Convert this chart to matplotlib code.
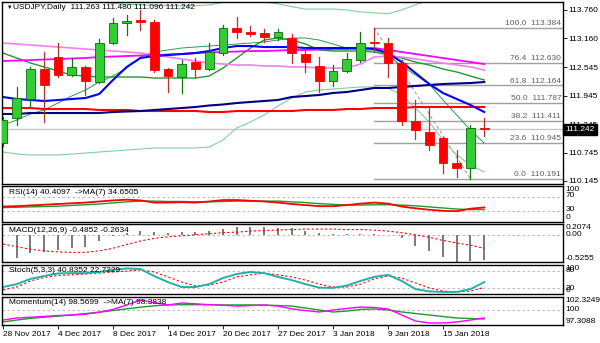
import matplotlib.pyplot as plt
from matplotlib.patches import Rectangle

plt.rcParams['font.family'] = ['Liberation Sans', 'DejaVu Sans']
FS = 6

# daily bars 28 Nov 2017 .. 18 Jan 2018
tick_pos = [0, 4, 8, 12, 16, 20, 24, 28, 32]
tick_labels = ["28 Nov 2017", "4 Dec 2017", "8 Dec 2017", "14 Dec 2017", "20 Dec 2017",
               "27 Dec 2017", "3 Jan 2018", "9 Jan 2018", "15 Jan 2018"]

opens = [110.948, 111.477, 111.878, 112.513, 112.766, 112.386, 112.555, 112.238, 113.062, 113.485,
         113.549, 113.506, 112.513, 112.344, 112.661, 112.513, 112.851, 113.379, 113.295, 113.274,
         113.189, 113.168, 112.830, 112.576, 112.259, 112.471, 112.703, 113.083, 113.062, 112.640,
         111.413, 111.181, 111.054, 110.525, 110.420, 111.263]
highs = [111.498, 112.132, 112.555, 112.872, 113.062, 112.745, 112.576, 113.147, 113.591, 113.654,
         113.760, 113.549, 112.534, 112.703, 112.745, 113.062, 113.443, 113.612, 113.422, 113.358,
         113.358, 113.253, 112.957, 112.766, 112.597, 112.851, 113.295, 113.384, 113.168, 112.703,
         111.857, 111.709, 111.075, 110.800, 111.329, 111.480]
lows = [110.885, 111.329, 111.730, 111.392, 112.344, 112.365, 111.963, 112.217, 113.041, 113.231,
        113.337, 112.449, 112.026, 112.005, 112.344, 112.492, 112.809, 113.168, 113.210, 113.083,
        113.126, 112.640, 112.449, 112.026, 112.153, 112.449, 112.661, 112.872, 112.344, 111.329,
        111.033, 110.800, 110.314, 110.229, 110.191, 111.096]
closes = [111.434, 111.900, 112.513, 112.174, 112.386, 112.555, 112.259, 113.062, 113.485, 113.527,
          113.506, 112.492, 112.365, 112.618, 112.513, 112.872, 113.379, 113.295, 113.253, 113.189,
          113.295, 112.851, 112.661, 112.259, 112.471, 112.724, 113.062, 113.052, 112.640, 111.413,
          111.223, 110.906, 110.525, 110.420, 111.263, 111.242]

ma_blue = [111.920, 111.878, 111.857, 111.836, 111.857, 111.878, 111.899, 111.984, 112.280, 112.555,
           112.745, 112.787, 112.808, 112.829, 112.850, 112.893, 112.956, 112.998, 112.998, 112.977,
           112.977, 112.977, 112.956, 112.956, 112.956, 112.956, 112.956, 112.935, 112.850, 112.660,
           112.428, 112.195, 112.005, 111.878, 111.751, 111.603]
ma_navy = [111.561, 111.561, 111.582, 111.582, 111.582, 111.582, 111.582, 111.582, 111.603, 111.614,
           111.624, 111.646, 111.666, 111.687, 111.709, 111.741, 111.762, 111.793, 111.815, 111.836,
           111.857, 111.920, 111.941, 111.963, 112.005, 112.026, 112.068, 112.111, 112.111, 112.132,
           112.153, 112.174, 112.195, 112.206, 112.216, 112.237]
ma_red = [111.687, 111.687, 111.687, 111.666, 111.666, 111.666, 111.666, 111.646, 111.646, 111.646,
          111.624, 111.624, 111.624, 111.624, 111.624, 111.603, 111.603, 111.624, 111.624, 111.624,
          111.624, 111.624, 111.646, 111.646, 111.646, 111.666, 111.666, 111.687, 111.687, 111.687,
          111.709, 111.709, 111.709, 111.709, 111.709, 111.709]
ma_magenta = [112.681, 112.692, 112.702, 112.713, 112.724, 112.734, 112.745, 112.766, 112.776, 112.787,
              112.798, 112.808, 112.819, 112.829, 112.850, 112.861, 112.872, 112.882, 112.893, 112.893,
              112.903, 112.914, 112.914, 112.924, 112.935, 112.935, 112.946, 112.956, 112.914, 112.872,
              112.829, 112.787, 112.745, 112.702, 112.660, 112.618]
ma_violet = [113.062, 113.041, 113.020, 112.998, 112.977, 112.956, 112.935, 112.914, 112.893, 112.872,
             112.850, 112.808, 112.766, 112.724, 112.681, 112.639, 112.618, 112.597, 112.597, 112.576,
             112.576, 112.555, 112.555, 112.533, 112.533, 112.533, 112.618, 112.766, 112.787, 112.766,
             112.724, 112.681, 112.639, 112.597, 112.555, 112.491]
ma_green = [112.850, 112.745, 112.639, 112.555, 112.470, 112.385, 112.364, 112.343, 112.343, 112.343,
            112.343, 112.322, 112.322, 112.322, 112.322, 112.364, 112.533, 112.745, 112.956, 113.125,
            113.168, 113.125, 113.041, 112.914, 112.893, 112.893, 112.893, 112.872, 112.808, 112.745,
            112.660, 112.597, 112.512, 112.449, 112.364, 112.280]
bb_upper = [114.400, 114.300, 114.200, 114.100, 114.050, 114.000, 113.970, 113.930, 113.900, 113.880,
            113.870, 113.860, 113.850, 113.850, 113.850, 113.870, 113.920, 113.950, 113.950, 113.930,
            113.890, 113.830, 113.780, 113.780, 113.780, 113.760, 113.720, 113.700, 113.680, 113.760,
            113.870, 113.970, 114.050, 114.100, 114.100, 114.100]
bb_lower = [110.757, 110.715, 110.694, 110.694, 110.694, 110.715, 110.736, 110.757, 110.778, 110.800,
            110.821, 110.842, 110.842, 110.842, 110.842, 110.863, 111.011, 111.265, 111.392, 111.540,
            111.730, 111.899, 112.026, 112.068, 112.089, 112.111, 112.132, 112.132, 112.111, 111.963,
            111.687, 111.392, 111.011, 110.694, 110.483, 110.335]
ma_fast = [111.328, 111.434, 111.561, 111.646, 111.793, 111.941, 112.068, 112.237, 112.364, 112.533,
           112.766, 112.872, 112.914, 112.956, 112.977, 112.998, 113.020, 113.041, 113.062, 113.083,
           113.125, 113.168, 113.168, 113.125, 113.041, 112.956, 112.914, 112.914, 112.808, 112.576,
           112.385, 112.195, 111.857, 111.540, 111.223, 110.946]

fib_levels = [100.0, 76.4, 61.8, 50.0, 38.2, 23.6, 0.0]
fib_prices = [113.384, 112.630, 112.164, 111.787, 111.411, 110.945, 110.191]
price_ticks = [113.760, 113.160, 112.545, 111.945, 111.345, 110.745, 110.145]

rsi = [43, 44, 46, 48, 50, 52, 54, 57, 60, 62, 60, 54, 54, 55, 54, 57, 61, 61, 59, 57,
       54, 50, 47, 44, 44, 47, 51, 54, 51, 43, 38, 34, 31, 30, 37, 40.4097]
rsi_ma = [40, 41, 42, 43, 44, 46, 48, 50, 53, 56, 58, 58, 57, 57, 56, 56, 57, 58, 58, 58,
          58, 56, 54, 51, 49, 47, 47, 48, 48, 47, 45, 42, 39, 36, 34.5, 34.6505]

macd = [-0.47, -0.44, -0.35, -0.33, -0.30, -0.25, -0.23, -0.13, -0.03, 0.03, 0.07, 0.05, 0.04, 0.05,
        0.05, 0.07, 0.12, 0.14, 0.14, 0.14, 0.13, 0.13, 0.07, 0.03, 0.02, 0.01, 0.02, 0.02, -0.01,
        -0.06, -0.21, -0.31, -0.42, -0.52, -0.51, -0.4852]
macd_signal = [-0.18, -0.23, -0.28, -0.31, -0.33, -0.34, -0.34, -0.31, -0.26, -0.19, -0.12, -0.07,
               -0.04, -0.02, 0.0, 0.02, 0.04, 0.05, 0.07, 0.08, 0.09, 0.10, 0.11, 0.11, 0.11, 0.10,
               0.10, 0.09, 0.07, 0.04, 0.0, -0.05, -0.11, -0.16, -0.20, -0.2634]

stoch_k = [24, 34, 52, 62, 71, 72, 72, 76, 83, 88, 86, 62, 41, 24, 24, 34, 55, 69, 76, 72,
           59, 48, 34, 22, 21, 29, 45, 59, 66, 45, 17, 9, 7, 7, 17, 40.8352]
stoch_d = [14, 24, 45, 57, 64, 66, 69, 72, 76, 79, 83, 76, 59, 41, 28, 31, 41, 59, 66, 72,
           66, 59, 48, 34, 24, 24, 34, 52, 62, 55, 38, 21, 10, 7, 10, 22.7229]

momentum = [98.2, 98.56, 98.7, 98.85, 99.0, 99.1, 99.25, 99.6, 100.1, 100.9, 101.8, 101.3, 100.9,
            101.25, 101.1, 100.95, 100.85, 100.7, 100.8, 100.9, 100.7, 100.2, 99.9, 99.64, 100.0,
            100.27, 100.53, 100.44, 100.18, 99.1, 98.03, 97.67, 97.67, 97.85, 98.2, 98.5699]
momentum_ma = [97.85, 98.2, 98.5, 98.7, 98.9, 99.1, 99.35, 99.6, 99.9, 100.2, 100.5, 100.75, 100.9,
               100.95, 100.95, 100.95, 100.9, 100.9, 100.9, 100.85, 100.8, 100.7, 100.35, 100.0,
               99.64, 99.8, 100.1, 100.18, 100.0, 99.64, 99.37, 99.1, 98.83, 98.56, 98.47, 98.3838]

W, H = 600, 343
fig = plt.figure(figsize=(6, 3.43), dpi=100)
n = len(closes)
x = list(range(n))
XL = (-0.07, 40.73)


def pane(top, bottom):
    ax = fig.add_axes([2 / W, 1 - bottom / H, 561 / W, (bottom - top) / H])
    ax.set_xlim(*XL)
    ax.set_xticks([])
    for s in ax.spines.values():
        s.set_linewidth(1.0)
        s.set_color('black')
    ax.yaxis.tick_right()
    ax.tick_params(axis='y', length=3, width=0.6, labelsize=FS, pad=1)
    return ax


def side_labels(ax, items):
    # items: (value, text, vertical alignment)
    ax.set_yticks([])
    for v, t, va in items:
        ax.text(1.004, v, t, transform=ax.get_yaxis_transform(), fontsize=FS,
                va=va, ha='left', clip_on=False)


# ---- price window
ax = pane(2, 184)
ax.set_ylim(110.081, 113.929)
ax.set_yticks(price_ticks)
ax.set_yticklabels([f"{p:.3f}" for p in price_ticks])

ax.axhline(closes[-1], color='#c8c8c8', lw=1.0, zorder=1)

for lvl, p in zip(fib_levels, fib_prices):
    ax.plot([27, XL[1]], [p, p], color='#a0a0a0', lw=1.0, zorder=1)
    ax.text(40.6, p + 0.02, f"{lvl:.1f}  {p:.3f}", fontsize=FS, color='#606060',
            ha='right', va='bottom')
ax.plot([27, 34], [fib_prices[0], fib_prices[-1]], color='#909090', lw=0.7, ls=(0, (3, 3)), zorder=1)

ax.plot(x, bb_upper, color='#7fcf9f', lw=0.8, zorder=2)
ax.plot(x, bb_lower, color='#7fcf9f', lw=0.8, zorder=2)
ax.plot(x, ma_fast, color='#2e9b4f', lw=0.7, zorder=2)
ax.plot(x, ma_green, color='#1f9a2f', lw=1.0, zorder=2)
ax.plot(x, ma_violet, color='#ee82ee', lw=1.2, zorder=2)
ax.plot(x, ma_magenta, color='#ff00ff', lw=1.3, zorder=2)
ax.plot(x, ma_red, color='#ff0000', lw=1.5, zorder=2)
ax.plot(x, ma_navy, color='#000080', lw=1.5, zorder=2)
ax.plot(x, ma_blue, color='#0000ff', lw=1.5, zorder=2)

for i in range(n):
    o, h, l, c = opens[i], highs[i], lows[i], closes[i]
    up = c >= o
    wick = '#0a7a0a' if up else '#b83030'
    ax.plot([i, i], [l, h], color=wick, lw=0.9, zorder=3)
    lo, hgt = min(o, c), max(abs(c - o), 0.006)
    ax.add_patch(Rectangle((i - 0.32, lo), 0.64, hgt, facecolor='#32cd32' if up else '#ff0000',
                           edgecolor='#0a6a0a' if up else '#ff0000', lw=0.6, zorder=4))

ax.text(0.009, 0.982, "\u25bc", transform=ax.transAxes, fontsize=4, va='top', ha='left')
ax.text(0.019, 0.99, "USDJPY,Daily  111.263 111.480 111.096 111.242", transform=ax.transAxes,
        fontsize=FS, va='top', ha='left')
ax.text(1.004, closes[-1], f"{closes[-1]:.3f}", transform=ax.get_yaxis_transform(), fontsize=FS,
        color='white', va='center', ha='left', clip_on=False, zorder=10,
        bbox=dict(boxstyle='square,pad=0.25', fc='black', ec='black'))

# ---- RSI
ax = pane(186, 222)
ax.set_ylim(0, 100)
for v in (70, 30):
    ax.axhline(v, color='#b0b0b0', lw=0.6, ls=(0, (3, 3)))
ax.plot(x, rsi_ma, color='#1f9a2f', lw=1.0)
ax.plot(x, rsi, color='#ff0000', lw=1.3)
ax.text(0.012, 0.93, "RSI(14) 40.4097  ->MA(7) 34.6505", transform=ax.transAxes, fontsize=FS, va='top')
side_labels(ax, [(100, "100", 'top'), (74, "70", 'center'), (34, "30", 'center'), (2, "0", 'bottom')])

# ---- MACD
ax = pane(224, 262)
ax.set_ylim(-0.5255, 0.2074)
ax.axhline(0, color='#b0b0b0', lw=0.6, ls=(0, (3, 3)))
ax.vlines(x[1:], 0, macd[1:], color='#707070', lw=1.3)
ax.plot(x, macd_signal, color='#ff0000', lw=0.8, ls=(0, (2, 2)))
ax.text(0.012, 0.93, "MACD(12,26,9) -0.4852 -0.2634", transform=ax.transAxes, fontsize=FS, va='top')
side_labels(ax, [(0.2074, "0.2074", 'top'), (0.0, "0.00", 'center'), (-0.5255, "-0.5255", 'bottom')])

# ---- Stochastic
ax = pane(265, 294)
ax.set_ylim(0, 100)
for v in (80, 20):
    ax.axhline(v, color='#b0b0b0', lw=0.6, ls=(0, (3, 3)))
ax.plot(x, stoch_d, color='#ff0000', lw=0.8, ls=(0, (2, 2)))
ax.plot(x, stoch_k, color='#20b2aa', lw=1.4)
ax.text(0.012, 0.93, "Stoch(5,3,3) 40.8352 22.7229", transform=ax.transAxes, fontsize=FS, va='top')
side_labels(ax, [(100, "100", 'top'), (80, "80", 'center'), (20, "20", 'center'), (0, "0", 'bottom')])

# ---- Momentum
ax = pane(297, 325)
ax.set_ylim(97.3088, 102.3249)
ax.axhline(100, color='#b0b0b0', lw=0.6, ls=(0, (3, 3)))
ax.plot(x, momentum_ma, color='#1f9a2f', lw=1.0)
ax.plot(x, momentum, color='#ff00ff', lw=1.0)
ax.text(0.012, 0.93, "Momentum(14) 98.5699  ->MA(7) 98.3838", transform=ax.transAxes, fontsize=FS,
        va='top')
side_labels(ax, [(102.3249, "102.3249", 'top'), (100, "100", 'center'), (97.3088, "97.3088", 'bottom')])

ax.set_xticks(tick_pos)
ax.set_xticklabels([])
ax.tick_params(axis='x', length=3, width=0.6, direction='out')
for p, t in zip(tick_pos, tick_labels):
    ax.text(p, -0.22, t, transform=ax.get_xaxis_transform(), fontsize=FS, ha='left', va='top')

fig.savefig("out.png", dpi=100)
